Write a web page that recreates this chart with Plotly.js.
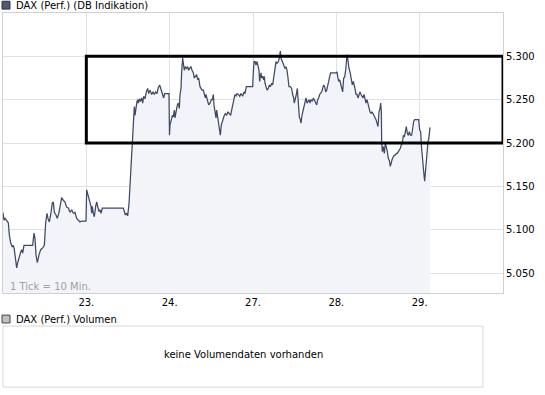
<!DOCTYPE html>
<html>
<head>
<meta charset="utf-8">
<script src="https://cdn.plot.ly/plotly-3.0.1.min.js"></script>
<style>
html,body{margin:0;padding:0;background:#fff;}
#chart{width:545px;height:395px;}
</style>
</head>
<body>
<div id="chart"></div>
<script>
// time in trading-day units (0 = start of 22., 1 = 23., 2 = 24., 3 = 27., 4 = 28., 5 = 29.)
var times = [
0.000,0.005,0.012,0.024,0.044,0.064,0.076,0.092,0.112,0.124,0.136,0.152,0.164,0.176,0.192,0.212,0.224,0.236,0.252,0.356,
0.372,0.384,0.396,0.412,0.432,0.452,0.476,0.496,0.512,0.528,0.540,0.556,0.572,0.592,0.604,0.616,0.636,0.652,0.672,0.688,
0.704,0.724,0.744,0.764,0.784,0.804,0.824,0.844,0.864,0.884,0.904,0.924,0.944,0.996,
1.004,1.016,1.032,1.044,1.056,1.064,1.072,1.084,1.096,1.112,1.124,1.136,1.152,1.164,1.176,1.192,1.444,1.456,1.468,1.484,
1.496,1.512,1.524,1.536,1.544,1.556,1.568,1.576,1.584,1.596,1.608,1.616,1.624,1.636,1.648,1.664,1.676,1.688,1.704,1.720,
1.736,1.748,1.764,1.784,1.800,1.816,1.832,1.848,1.864,1.880,1.896,1.912,1.928,1.940,1.992,1.998,
2.004,2.016,2.032,2.044,2.056,2.064,2.076,2.092,2.104,2.116,2.124,2.136,2.144,2.156,2.164,2.176,2.188,2.204,2.216,2.228,
2.244,2.256,2.268,2.284,2.296,2.308,2.324,2.336,2.348,2.364,2.376,2.388,2.404,2.416,2.428,2.436,2.444,2.456,2.468,2.484,
2.500,2.512,2.524,2.532,2.544,2.556,2.564,2.576,2.588,2.600,2.608,2.620,2.632,2.644,2.656,2.668,2.684,2.700,2.716,2.732,
2.748,2.760,2.772,2.784,2.796,2.808,2.824,2.840,2.856,2.876,2.892,2.904,2.920,2.996,
3.004,3.012,3.024,3.036,3.048,3.060,3.072,3.080,3.088,3.096,3.104,3.116,3.128,3.136,3.144,3.156,3.168,3.184,3.196,3.208,
3.224,3.236,3.248,3.264,3.276,3.288,3.304,3.316,3.328,3.336,3.344,3.356,3.368,3.384,3.396,3.408,3.420,3.432,3.448,3.464,
3.476,3.488,3.496,3.508,3.520,3.532,3.544,3.556,3.568,3.576,3.588,3.600,3.612,3.624,3.636,3.648,3.660,3.672,3.684,3.696,
3.712,3.724,3.736,3.748,3.764,3.776,3.788,3.800,3.812,3.824,3.836,3.848,3.860,3.872,3.884,3.896,3.908,3.920,3.932,3.999,
4.008,4.016,4.028,4.040,4.052,4.064,4.076,4.088,4.100,4.112,4.120,4.128,4.136,4.144,4.152,4.164,4.172,4.184,4.192,4.204,
4.216,4.228,4.236,4.248,4.260,4.272,4.284,4.296,4.308,4.320,4.332,4.344,4.356,4.368,4.380,4.392,4.404,4.416,4.428,4.440,
4.452,4.464,4.476,4.488,4.500,4.512,4.524,4.532,4.540,4.544,4.552,4.564,4.576,4.588,4.600,4.612,4.624,4.636,4.648,4.660,
4.672,4.684,4.696,4.708,4.720,4.732,4.744,4.756,4.768,4.780,4.792,4.804,4.816,4.828,4.840,4.852,4.864,4.876,4.888,4.904,
4.916,4.928,4.940,4.988,5.000,
5.012,5.020,5.028,5.040,5.052,5.060,5.068,5.076,5.084,5.092,5.100,5.108,5.116,5.124
];
var values = [
5120,5113,5111,5113,5111,5108,5094,5085,5080,5082,5077,5065,5056,5062,5069,5074,5077,5073,5082,5082,
5096,5090,5071,5062,5071,5077,5079,5082,5108,5119,5113,5109,5117,5131,5132,5120,5117,5113,5120,5131,
5137,5134,5132,5126,5125,5120,5123,5119,5120,5113,5111,5109,5110,5110,
5146,5142,5138,5132,5127,5119,5127,5119,5115,5127,5132,5127,5121,5123,5119,5125,5125,5121,5117,5119,
5116,5130,5154,5165,5196,5215,5230,5242,5232,5244,5248,5250,5246,5251,5248,5252,5246,5254,5251,5259,
5263,5257,5261,5256,5259,5256,5259,5257,5264,5267,5262,5257,5252,5257,5257,5209,
5221,5225,5232,5230,5238,5229,5236,5244,5246,5240,5256,5263,5282,5298,5292,5284,5288,5286,5288,5284,
5287,5288,5284,5281,5275,5277,5279,5273,5275,5265,5263,5261,5261,5256,5252,5256,5252,5246,5244,5246,
5250,5250,5256,5244,5232,5229,5238,5230,5221,5215,5209,5221,5225,5230,5232,5234,5232,5236,5234,5232,
5240,5246,5252,5256,5254,5257,5256,5254,5257,5254,5259,5257,5265,5265,
5282,5294,5294,5290,5294,5290,5284,5271,5275,5281,5275,5277,5273,5277,5269,5265,5261,5263,5267,5265,
5269,5267,5275,5288,5294,5292,5294,5298,5306,5298,5296,5292,5290,5286,5288,5284,5275,5265,5265,5263,
5256,5252,5246,5250,5256,5263,5248,5230,5227,5223,5232,5238,5242,5246,5252,5246,5248,5250,5246,5250,
5248,5252,5250,5248,5244,5250,5252,5256,5257,5259,5263,5267,5265,5259,5261,5265,5271,5277,5281,5281,
5282,5277,5271,5273,5267,5265,5259,5275,5276,5284,5294,5302,5298,5290,5286,5282,5277,5275,5267,5271,
5263,5261,5256,5256,5252,5257,5259,5256,5254,5252,5256,5248,5246,5250,5244,5242,5236,5234,5236,5234,
5232,5230,5227,5223,5219,5236,5240,5246,5236,5202,5190,5196,5188,5200,5196,5190,5182,5180,5173,5179,
5182,5184,5186,5186,5188,5188,5190,5192,5194,5198,5200,5209,5207,5213,5219,5211,5209,5213,5209,5209,
5219,5225,5227,5227,5215,
5213,5198,5186,5175,5163,5156,5167,5175,5190,5198,5202,5204,5211,5218
];
var dayTicks = [1, 2, 3, 4, 5];
var dayLabels = ['23.', '24.', '27.', '28.', '29.'];
var priceTicks = [5050, 5100, 5150, 5200, 5250, 5300];
var boxLow = 5200, boxHigh = 5300, boxStartDay = 1;

var FONT = 'DejaVu Sans, Verdana, sans-serif';

var trace = {
  x: times, y: values, type: 'scatter', mode: 'lines',
  line: {color: '#3f4965', width: 1.25},
  fill: 'tozeroy', fillcolor: '#f3f4fa',
  hoverinfo: 'skip'
};

var layout = {
  width: 545, height: 395,
  margin: {l: 3, r: 42, t: 13, b: 102},
  paper_bgcolor: '#ffffff', plot_bgcolor: '#ffffff',
  showlegend: false,
  separators: ',.',
  font: {family: FONT, size: 10, color: '#000000'},
  xaxis: {
    range: [0, 6], tickmode: 'array', tickvals: dayTicks, ticktext: dayLabels,
    showgrid: true, gridcolor: '#e1e1e1', gridwidth: 1,
    showline: true, linecolor: '#d0d0d0', linewidth: 1, mirror: true,
    zeroline: false, ticks: '', tickfont: {family: FONT, size: 10, color: '#000'},
    fixedrange: true
  },
  yaxis: {
    range: [5027, 5350], side: 'right', tickmode: 'array', tickvals: priceTicks,
    tickformat: ',.0f',
    showgrid: true, gridcolor: '#e1e1e1', gridwidth: 1,
    showline: true, linecolor: '#d0d0d0', linewidth: 1, mirror: true,
    zeroline: false, ticks: '', tickfont: {family: FONT, size: 10, color: '#000'},
    fixedrange: true
  },
  shapes: [
    {type: 'rect', xref: 'x', yref: 'y', x0: boxStartDay, x1: 6, y0: boxLow, y1: boxHigh,
     line: {color: '#000000', width: 3}, fillcolor: 'rgba(0,0,0,0)', layer: 'above'},
    {type: 'rect', xref: 'paper', yref: 'paper', x0: -0.002, x1: 0.014, y0: 1.014, y1: 1.042,
     line: {color: '#2f3447', width: 1}, fillcolor: '#535a70'},
    {type: 'rect', xref: 'paper', yref: 'paper', x0: -0.002, x1: 0.014, y0: -0.107, y1: -0.079,
     line: {color: '#444444', width: 1}, fillcolor: '#c0c0c0'},
    {type: 'rect', xref: 'paper', yref: 'paper', x0: 0, x1: 0.96, y0: -0.336, y1: -0.118,
     line: {color: '#d8d8d8', width: 1}, fillcolor: 'rgba(0,0,0,0)'}
  ],
  annotations: [
    {xref: 'paper', yref: 'paper', x: 0.022, y: 1.028, xanchor: 'left', yanchor: 'middle',
     text: 'DAX (Perf.) (DB Indikation)', showarrow: false, font: {family: FONT, size: 10, color: '#000'}},
    {xref: 'paper', yref: 'paper', x: 0.01, y: 0.022, xanchor: 'left', yanchor: 'middle',
     text: '1 Tick = 10 Min.', showarrow: false, font: {family: FONT, size: 10, color: '#a0a0a0'}},
    {xref: 'paper', yref: 'paper', x: 0.022, y: -0.093, xanchor: 'left', yanchor: 'middle',
     text: 'DAX (Perf.) Volumen', showarrow: false, font: {family: FONT, size: 10, color: '#000'}},
    {xref: 'paper', yref: 'paper', x: 0.48, y: -0.221, xanchor: 'center', yanchor: 'middle',
     text: 'keine Volumendaten vorhanden', showarrow: false, font: {family: FONT, size: 10, color: '#000'}}
  ]
};

Plotly.newPlot('chart', [trace], layout, {displayModeBar: false, staticPlot: true});
</script>
</body>
</html>
